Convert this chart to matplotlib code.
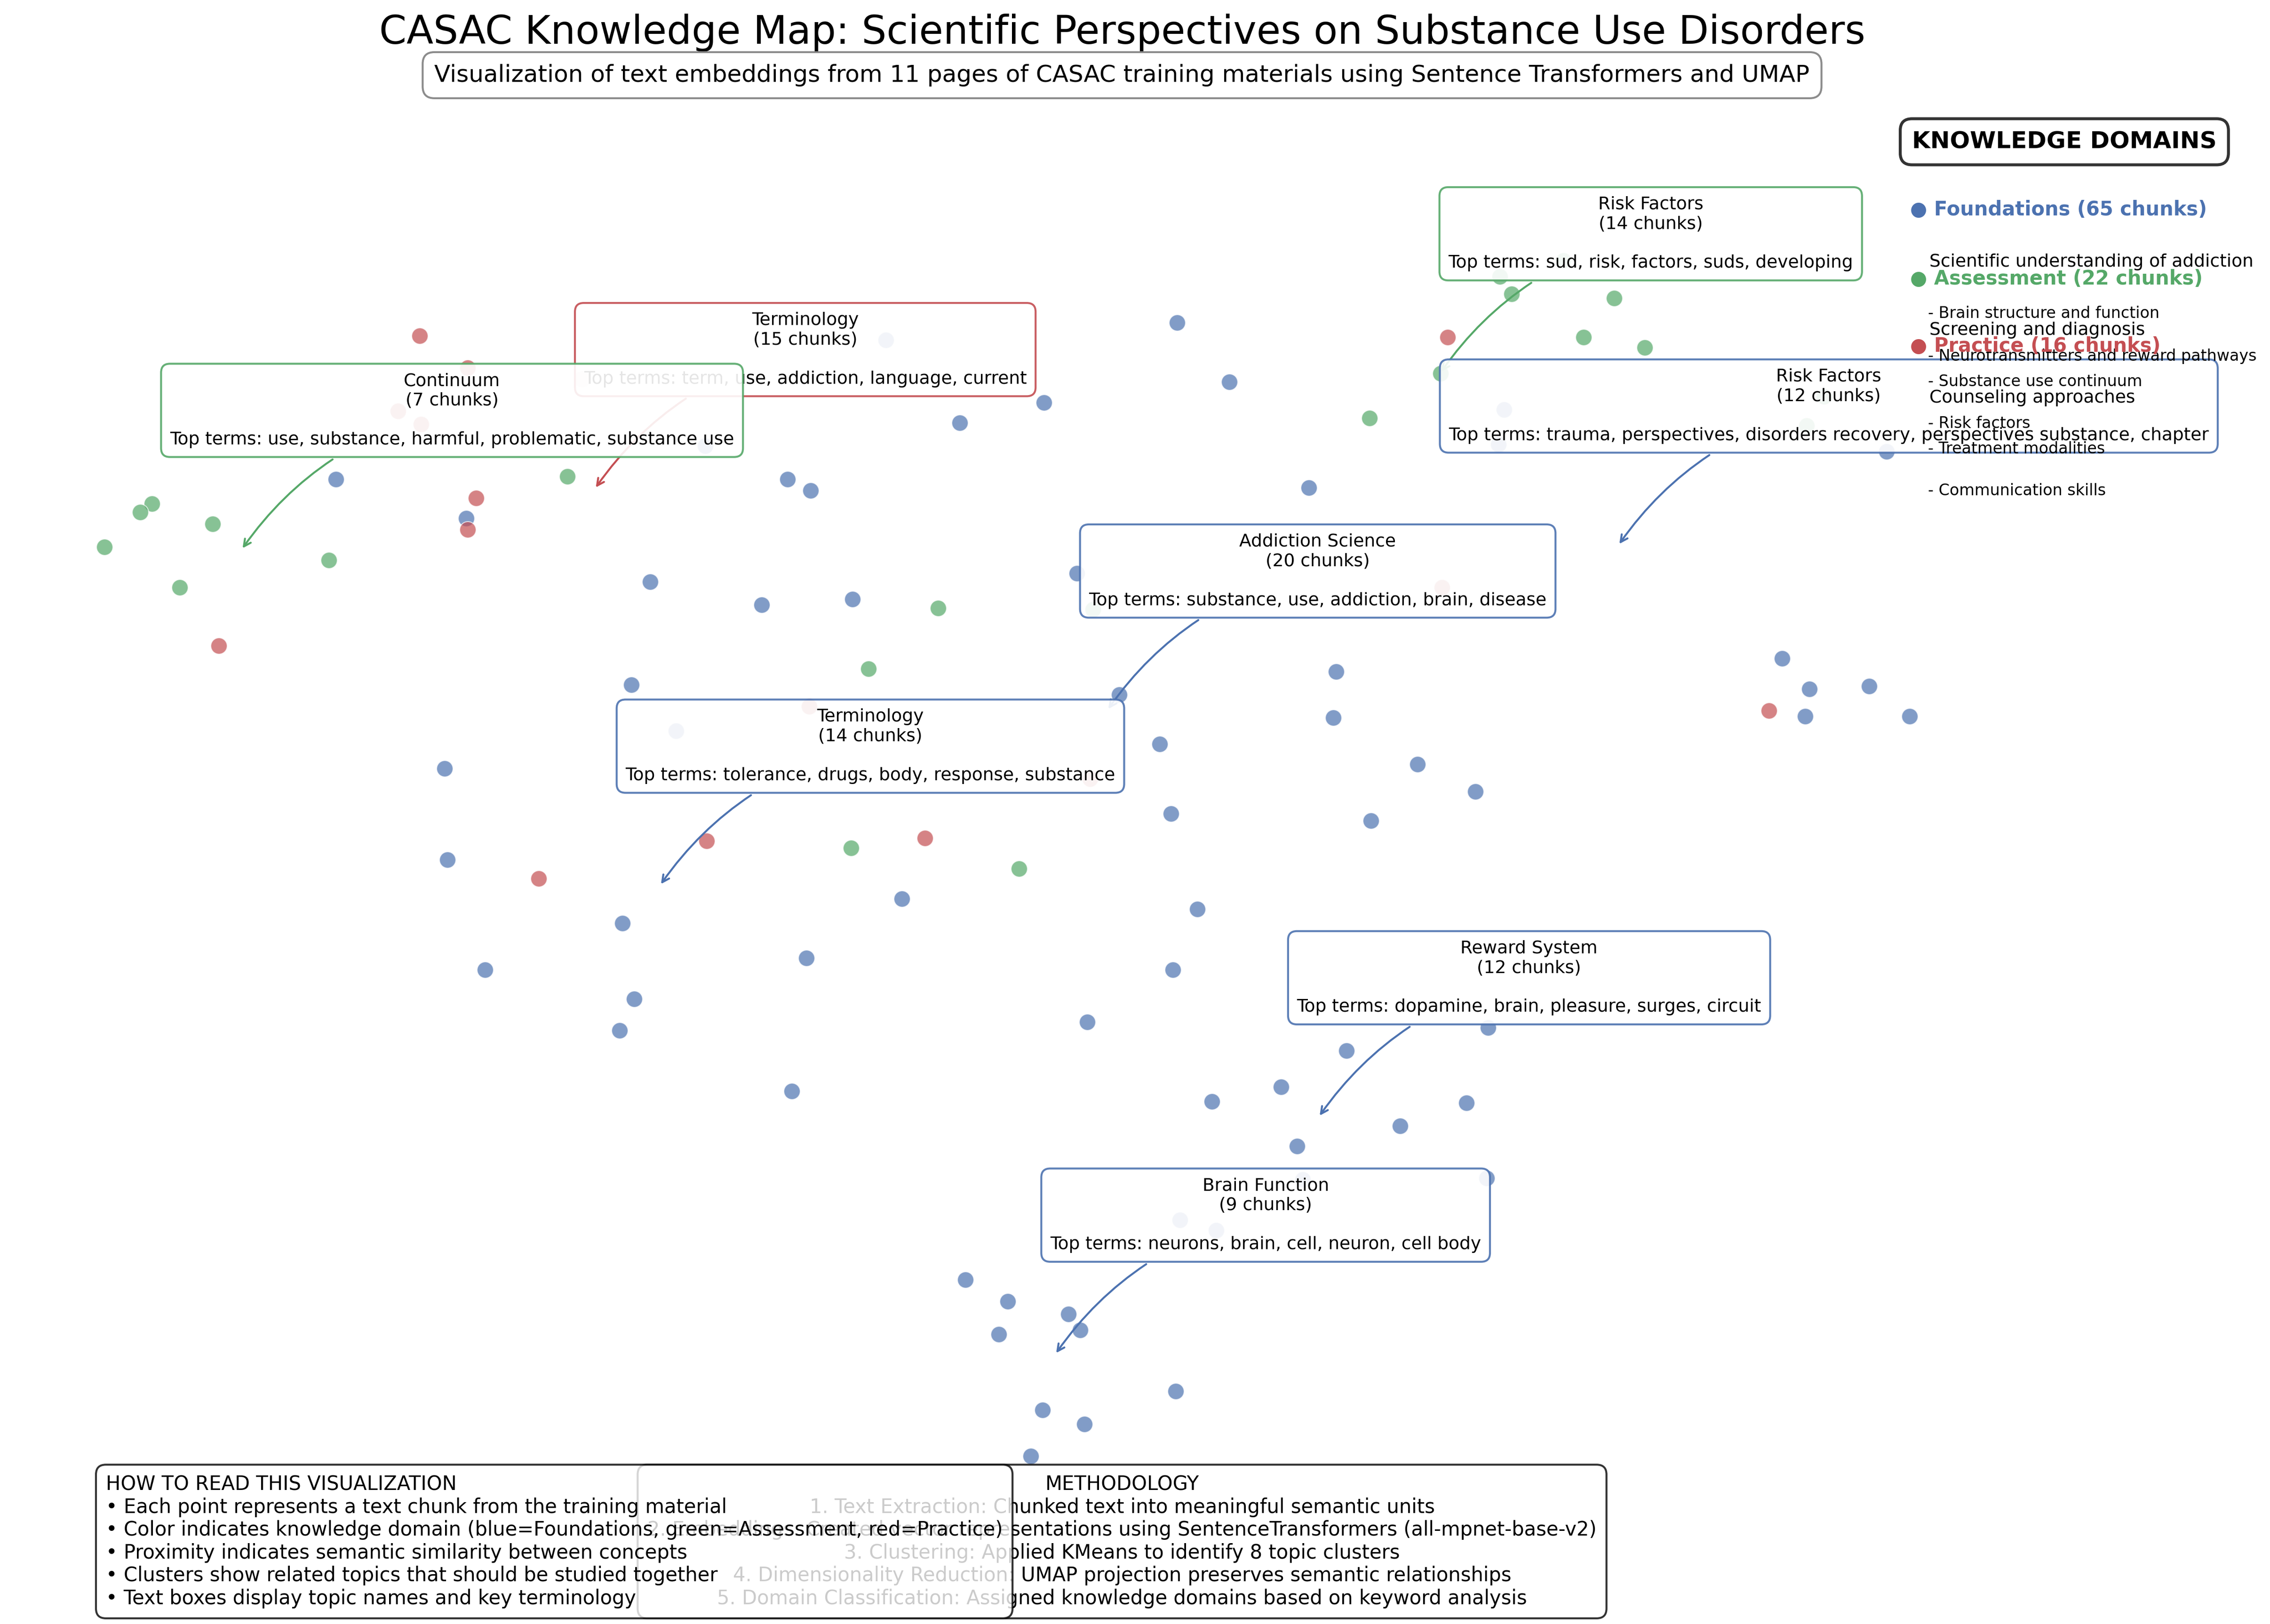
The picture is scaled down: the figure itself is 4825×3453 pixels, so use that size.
import numpy as np
import matplotlib
matplotlib.use('Agg')
import matplotlib.pyplot as plt

plt.rcParams['font.family'] = 'DejaVu Sans'

# domain colours (seaborn "deep")
domain_colors = {'Foundations': '#4C72B0', 'Assessment': '#55A868', 'Practice': '#C44E52'}

# UMAP coordinates of the text chunks, per knowledge domain
found_x = [0.32, 1.22, 6.13, 6.49, 5.21, 4.63, 3.44, 3.60, 7.04, 11.03,
           2.49, 3.26, 3.89, 5.44, 2.36, 5.73, 7.23, 7.21, 6.01, 7.79,
           8.19, 1.07, 6.09, 7.47, 1.09, 4.23, 6.27, 2.30, 3.57, 6.10,
           1.35, 2.38, 2.28, 5.51, 8.28, 7.30, 6.85, 6.37, 8.13, 7.67,
           3.47, 6.96, 8.27, 4.67, 4.96, 5.38, 4.90, 5.46, 6.12, 5.20,
           5.49, 5.12, 10.31, 10.50, 10.91, 10.47, 11.19, 4.12, 2.87, 2.67,
           8.39, 8.35, 7.00, 6.15, 6.40]
found_y = [6.91, 6.64, 7.99, 7.58, 7.44, 7.30, 6.91, 6.83, 6.85, 7.10,
           6.20, 6.04, 6.08, 6.26, 5.49, 5.42, 5.58, 5.26, 5.08, 4.94,
           4.75, 4.91, 4.60, 4.55, 4.28, 4.01, 3.94, 3.84, 3.60, 3.52,
           3.52, 3.32, 3.10, 3.16, 3.12, 2.96, 2.71, 2.61, 2.60, 2.44,
           2.68, 2.30, 2.08, 1.38, 1.23, 1.14, 1.00, 1.03, 0.61, 0.48,
           0.38, 0.16, 5.67, 5.46, 5.48, 5.27, 5.27, 7.87, 7.14, 5.17,
           7.39, 7.15, 2.07, 1.79, 1.72]

assess_x = [1.92, -0.95, -1.03, -0.53, -1.28, 0.27, -0.76, 7.46, 7.95, 8.44,
            8.36, 9.15, 8.94, 9.36, 4.48, 4.00, 3.88, 5.04, 10.60, 10.48,
            5.55, 8.80]
assess_y = [6.93, 6.74, 6.68, 6.60, 6.44, 6.35, 6.16, 7.33, 7.64, 8.19,
            8.31, 8.16, 7.89, 7.82, 6.02, 5.60, 4.36, 4.22, 7.48, 7.28,
            6.01, 8.42]

pract_x = [0.90, 1.23, 0.75, 0.91, 1.29, 1.23, -0.49, 8.00, 3.59, 2.88,
           4.39, 1.72, 10.22, 7.96, 5.53, 2.02]
pract_y = [7.90, 7.68, 7.38, 7.29, 6.78, 6.56, 5.76, 7.89, 5.34, 4.41,
           4.43, 4.15, 5.31, 6.16, 4.84, 7.60]

# topic clusters: name, size, top terms, domain colour, centroid
clusters = [
    ('Terminology', 15, 'term, use, addiction, language, current', 'Practice', 2.10, 6.83),
    ('Continuum', 7, 'use, substance, harmful, problematic, substance use', 'Assessment', -0.34, 6.41),
    ('Risk Factors', 14, 'sud, risk, factors, suds, developing', 'Assessment', 7.94, 7.63),
    ('Risk Factors', 12, 'trauma, perspectives, disorders recovery, perspectives substance, chapter', 'Foundations', 9.17, 6.44),
    ('Addiction Science', 20, 'substance, use, addiction, brain, disease', 'Foundations', 5.64, 5.30),
    ('Terminology', 14, 'tolerance, drugs, body, response, substance', 'Foundations', 2.55, 4.09),
    ('Reward System', 12, 'dopamine, brain, pleasure, surges, circuit', 'Foundations', 7.10, 2.49),
    ('Brain Function', 9, 'neurons, brain, cell, neuron, cell body', 'Foundations', 5.28, 0.85),
]

domains = ['Foundations', 'Assessment', 'Practice']
domain_desc = ['Scientific understanding of addiction', 'Screening and diagnosis', 'Counseling approaches']
domain_bullets = [['Brain structure and function', 'Neurotransmitters and reward pathways'],
                  ['Substance use continuum', 'Risk factors'],
                  ['Treatment modalities', 'Communication skills']]

fig = plt.figure(figsize=(4825 / 300, 3453 / 300), dpi=300)
ax = fig.add_axes([0, 0, 1, 1])
ax.set_xlim(-2, 13.68)
ax.set_ylim(-1, 10.22)
ax.axis('off')

for xs, ys, d in [(found_x, found_y, 'Foundations'), (assess_x, assess_y, 'Assessment'),
                  (pract_x, pract_y, 'Practice')]:
    ax.scatter(xs, ys, s=70, c=domain_colors[d], alpha=0.7, edgecolors='white', linewidths=0.5)

for name, n, terms, d, cx, cy in clusters:
    col = domain_colors[d]
    ax.annotate(f'{name}\n({n} chunks)\n\nTop terms: {terms}', xy=(cx, cy),
                xytext=(108, 72), textcoords='offset points', ha='center', va='center',
                fontsize=9,
                bbox=dict(boxstyle='round,pad=0.5', fc='white', ec=col, alpha=0.9, lw=1),
                arrowprops=dict(arrowstyle='->', color=col, lw=1,
                                connectionstyle='arc3,rad=0.2'))

# titles
fig.text(0.4943, 0.980, 'CASAC Knowledge Map: Scientific Perspectives on Substance Use Disorders',
         ha='center', va='center', fontsize=20)
fig.text(0.4943, 0.9537, 'Visualization of text embeddings from 11 pages of CASAC training materials '
         'using Sentence Transformers and UMAP', ha='center', va='center', fontsize=12,
         bbox=dict(boxstyle='round,pad=0.5', fc='white', ec='gray', alpha=0.9, lw=1))

# legend on the right
fig.text(0.9094, 0.9127, 'KNOWLEDGE DOMAINS', ha='center', va='center', fontsize=12,
         fontweight='bold', bbox=dict(boxstyle='round,pad=0.5', fc='white', ec='#333333', lw=1.5))
counts = [len(found_x), len(assess_x), len(pract_x)]
head_y = [0.8708, 0.8284, 0.7870]
desc_y = [0.8387, 0.7968, 0.7549]
bullet_y = [[0.8070, 0.7807], [0.7651, 0.7393], [0.7237, 0.6979]]
for i, d in enumerate(domains):
    fig.text(0.8415, head_y[i], f'\u25cf {d} ({counts[i]} chunks)', ha='left', va='center',
             fontsize=10, fontweight='bold', color=domain_colors[d])
    fig.text(0.8500, desc_y[i], domain_desc[i], ha='left', va='center', fontsize=9)
    for j, b in enumerate(domain_bullets[i]):
        fig.text(0.8493, bullet_y[i][j], f'- {b}', ha='left', va='center', fontsize=8)

# explanation boxes at the bottom
method_text = ('METHODOLOGY\n'
               '1. Text Extraction: Chunked text into meaningful semantic units\n'
               '2. Embeddings: Created vector representations using SentenceTransformers (all-mpnet-base-v2)\n'
               '3. Clustering: Applied KMeans to identify 8 topic clusters\n'
               '4. Dimensionality Reduction: UMAP projection preserves semantic relationships\n'
               '5. Domain Classification: Assigned knowledge domains based on keyword analysis')
fig.text(0.4943, 0.0508, method_text, ha='center', va='center', fontsize=10,
         multialignment='center',
         bbox=dict(boxstyle='round,pad=0.5', fc='white', ec='black', alpha=0.8, lw=1))

howto_text = ('HOW TO READ THIS VISUALIZATION\n'
              '\u2022 Each point represents a text chunk from the training material\n'
              '\u2022 Color indicates knowledge domain (blue=Foundations, green=Assessment, red=Practice)\n'
              '\u2022 Proximity indicates semantic similarity between concepts\n'
              '\u2022 Clusters show related topics that should be studied together\n'
              '\u2022 Text boxes display topic names and key terminology')
fig.text(0.0466, 0.0508, howto_text, ha='left', va='center', fontsize=10,
         bbox=dict(boxstyle='round,pad=0.5', fc='white', ec='black', alpha=0.8, lw=1))

plt.savefig('out.png', dpi=300)
plt.close('all')
